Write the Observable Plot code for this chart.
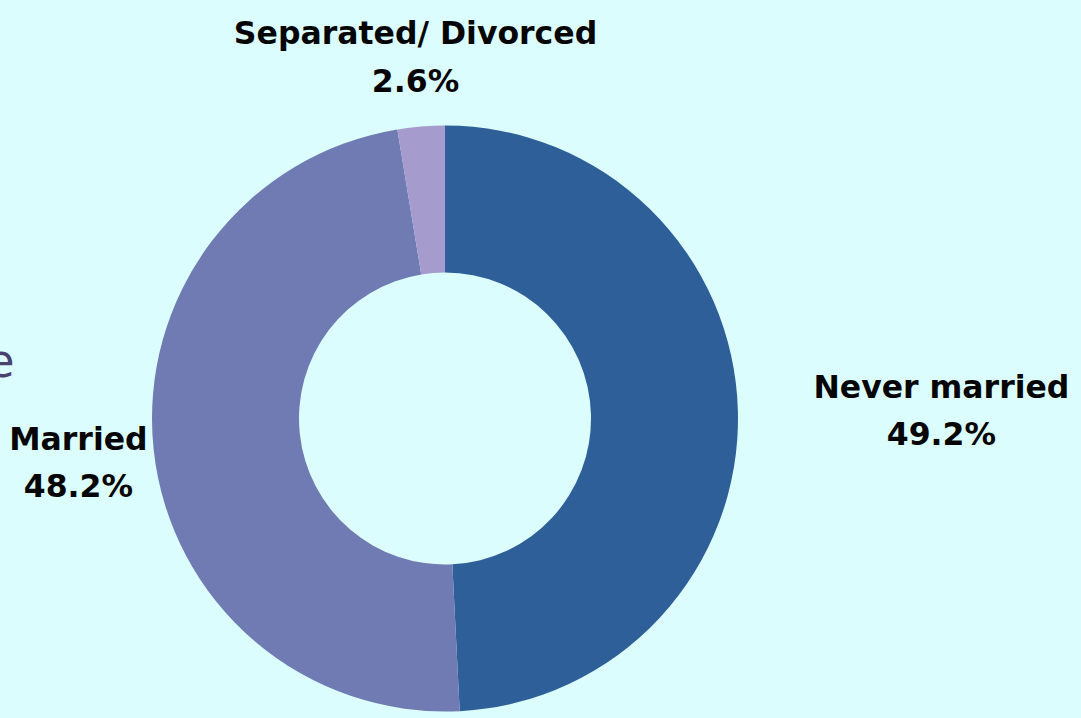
<!DOCTYPE html>
<html><head><meta charset="utf-8">
<script src="https://cdn.jsdelivr.net/npm/d3@7"></script>
<script src="https://cdn.jsdelivr.net/npm/@observablehq/plot@0.6"></script>
<style>html,body{margin:0;padding:0;background:#dcfdfd;overflow:hidden}</style>
</head><body><div id="chart"></div>
<script>
// ---- data ----
const categories = ["Never married", "Married", "Separated/ Divorced"];
const shares = [49.2, 48.2, 2.6];
const colors = ["#2e5f98", "#6f7bb2", "#a59bcc"];

// ---- layout ----
const W = 1081, H = 718;
const R = 293;             // outer radius in px
const innerRatio = 146 / 293;
const cx = 445, cy = 418.5;
// label distance from centre, in units of the outer radius
const labelRadius = {"Never married": 1.693, "Married": 1.26, "Separated/ Divorced": 1.254};

const data = categories.map((category, i) => ({category, share: shares[i]}));
const arcs = d3.pie().sort(null).value(d => d.share)(data);
const labels = arcs.map(a => {
  const mid = (a.startAngle + a.endAngle) / 2;
  const r = labelRadius[a.data.category];
  return {
    x: Math.sin(mid) * r,
    y: -Math.cos(mid) * r,   // positive = downward
    text: `${a.data.category}\n${a.data.share.toFixed(1)}%`
  };
});

function donut(index, scales) {
  const x0 = scales.x(0), y0 = scales.y(0);
  const rOuter = scales.x(1) - x0;
  const color = scales.color ?? d3.scaleOrdinal(categories, colors);
  const arc = d3.arc().innerRadius(rOuter * innerRatio).outerRadius(rOuter);
  const g = d3.create("svg:g").attr("transform", `translate(${x0},${y0})`);
  g.selectAll("path").data(arcs).join("path")
    .attr("d", arc)
    .attr("fill", d => color(d.data.category));
  return g.node();
}

const chart = Plot.plot({
  width: W,
  height: H,
  margin: 0,
  x: {domain: [-cx / R, (W - cx) / R], axis: null},
  // y grows downward: first domain value maps to the bottom of the frame
  y: {domain: [(H - cy) / R, -cy / R], axis: null},
  color: {domain: categories, range: colors},
  style: {background: "#dcfdfd", overflow: "visible"},
  marks: [
    donut,
    Plot.text(labels, {
      x: "x", y: "y", text: "text",
      fontSize: 31.5, fontWeight: "bold", fontFamily: "DejaVu Sans",
      lineHeight: 1.5, fill: "#050505"
    }),
    Plot.text(["e"], {
      frameAnchor: "left", textAnchor: "end", dx: 14, dy: 3,
      fontSize: 46, fontFamily: "DejaVu Sans", fill: "#4b4170"
    })
  ]
});
document.getElementById("chart").append(chart);
</script>
</body></html>
